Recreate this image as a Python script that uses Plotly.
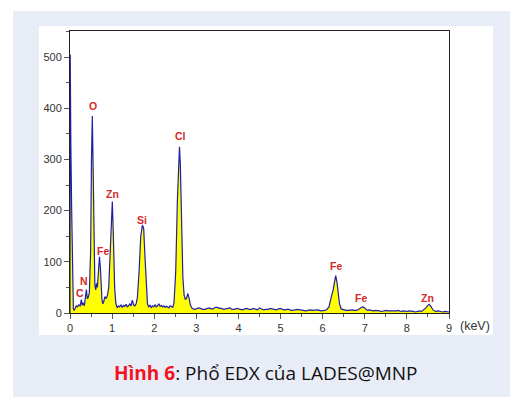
import plotly.graph_objects as go

# Energy (keV) and counts
energy = [0.00, 0.005, 0.02, 0.04, 0.06, 0.08, 0.10, 0.12, 0.15, 0.18, 0.21, 0.24, 0.27, 0.29, 0.31,
          0.34, 0.37, 0.39, 0.41, 0.43, 0.46, 0.49, 0.51, 0.53, 0.55, 0.57, 0.59, 0.61, 0.63, 0.65,
          0.67, 0.70, 0.72, 0.74, 0.76, 0.78, 0.80, 0.83, 0.86, 0.89, 0.92, 0.95, 0.98, 1.005, 1.03,
          1.06, 1.09, 1.12, 1.15, 1.18, 1.21, 1.24, 1.27, 1.30, 1.33, 1.36, 1.39, 1.42, 1.45, 1.48,
          1.51, 1.54, 1.57, 1.60, 1.64, 1.68, 1.72, 1.75, 1.78, 1.81, 1.84, 1.87, 1.90, 1.93, 1.96,
          1.99, 2.02, 2.05, 2.08, 2.11, 2.14, 2.17, 2.20, 2.23, 2.26, 2.29, 2.32, 2.35, 2.38, 2.41,
          2.44, 2.47, 2.51, 2.55, 2.58, 2.60, 2.62, 2.65, 2.68, 2.71, 2.74, 2.77, 2.80, 2.83, 2.86,
          2.90, 2.95, 3.00, 3.05, 3.10, 3.15, 3.20, 3.25, 3.30, 3.35, 3.40, 3.45, 3.50, 3.55, 3.60,
          3.65, 3.70, 3.75, 3.80, 3.85, 3.90, 3.95, 4.00, 4.05, 4.10, 4.15, 4.20, 4.25, 4.30, 4.35,
          4.40, 4.45, 4.50, 4.55, 4.60, 4.65, 4.70, 4.75, 4.80, 4.85, 4.90, 4.95, 5.00, 5.05, 5.10,
          5.15, 5.20, 5.25, 5.30, 5.35, 5.40, 5.45, 5.50, 5.55, 5.60, 5.65, 5.70, 5.75, 5.80, 5.85,
          5.90, 5.95, 6.00, 6.05, 6.10, 6.15, 6.20, 6.25, 6.28, 6.31, 6.34, 6.37, 6.40, 6.44, 6.50,
          6.55, 6.60, 6.65, 6.70, 6.75, 6.80, 6.85, 6.90, 6.94, 6.98, 7.02, 7.06, 7.10, 7.15, 7.20,
          7.25, 7.30, 7.35, 7.40, 7.45, 7.50, 7.55, 7.60, 7.65, 7.70, 7.75, 7.80, 7.85, 7.90, 7.95,
          8.00, 8.05, 8.10, 8.15, 8.20, 8.25, 8.30, 8.35, 8.40, 8.45, 8.50, 8.53, 8.57, 8.62, 8.68,
          8.75, 8.80, 8.85, 8.90, 8.95, 9.00]
counts = [0, 505, 330, 200, 60, 8, 5, 10, 14, 12, 16, 14, 26, 15, 20,
          14, 30, 46, 28, 30, 40, 120, 300, 385, 280, 110, 55, 45, 58, 50,
          80, 110, 90, 50, 25, 18, 22, 32, 28, 35, 50, 110, 190, 218, 150,
          50, 18, 10, 14, 12, 16, 11, 15, 13, 17, 12, 14, 18, 14, 25,
          16, 14, 18, 30, 80, 150, 172, 165, 110, 45, 18, 12, 15, 11, 14,
          12, 16, 12, 14, 18, 13, 15, 12, 14, 11, 13, 12, 10, 14, 12,
          11, 20, 80, 220, 310, 325, 290, 180, 70, 35, 26, 30, 38, 28, 15,
          9, 7, 8, 10, 9, 7, 7, 9, 10, 8, 8, 11, 11, 9, 9,
          7, 8, 10, 10, 7, 7, 9, 8, 6, 6, 8, 9, 7, 7, 9,
          8, 6, 10, 8, 6, 7, 7, 9, 8, 6, 6, 8, 9, 7, 6,
          7, 7, 5, 5, 6, 7, 6, 6, 5, 4, 5, 6, 5, 5, 6,
          6, 4, 4, 5, 7, 12, 30, 45, 60, 73, 60, 35, 18, 8, 6,
          5, 5, 6, 6, 5, 5, 7, 10, 12, 11, 8, 5, 6, 5, 4,
          5, 5, 4, 3, 4, 5, 4, 4, 3, 3, 4, 5, 3, 4, 3,
          3, 4, 4, 3, 2, 3, 4, 3, 6, 10, 15, 17, 13, 6, 3,
          4, 3, 2, 3, 3, 2]

# Peak labels (element, x, y)
label_text = ["C", "N", "O", "Fe", "Zn", "Si", "Cl", "Fe", "Fe", "Zn"]
label_x = [0.23, 0.33, 0.55, 0.78, 1.02, 1.72, 2.62, 6.31, 6.91, 8.49]
label_y = [39, 62, 404, 122, 233, 182, 345, 92, 29, 30]

x_ticks = list(range(0, 10))
y_ticks = [0, 100, 200, 300, 400, 500]

fig = go.Figure()
fig.add_trace(go.Scatter(
    x=energy, y=counts, mode="lines",
    line=dict(color="#1f1fa8", width=1.2),
    fill="tozeroy", fillcolor="#ffff00",
    hoverinfo="skip", showlegend=False,
))

for t, x, y in zip(label_text, label_x, label_y):
    fig.add_annotation(x=x, y=y, text="<b>%s</b>" % t, showarrow=False,
                       xanchor="center", yanchor="middle",
                       font=dict(family="Arial, Liberation Sans", size=10.5, color="#d42a2a"))

W, H = 510, 397
ML, MR, MT, MB = 70, 61, 31, 84
pw, ph = W - ML - MR, H - MT - MB


def px(x):
    return (x - ML) / pw


def py(y):
    return (H - MB - y) / ph


shapes = [
    dict(type="rect", xref="paper", yref="paper", x0=px(0), x1=px(W), y0=py(0), y1=py(11),
         fillcolor="white", line_width=0, layer="below"),
    dict(type="rect", xref="paper", yref="paper", x0=px(0), x1=px(13), y0=py(0), y1=py(H),
         fillcolor="white", line_width=0, layer="below"),
    dict(type="rect", xref="paper", yref="paper", x0=px(39), x1=px(493), y0=py(26), y1=py(335),
         fillcolor="white", line_width=0, layer="below"),
]

fig.add_annotation(xref="paper", yref="paper", x=px(475), y=py(326), text="(keV)",
                   xanchor="center", yanchor="middle",
                   showarrow=False, font=dict(family="Arial, Liberation Sans", size=12.5, color="#333333"))
fig.add_annotation(xref="paper", yref="paper", x=px(266), y=py(373),
                   xanchor="center", yanchor="middle",
                   text="<b><span style='color:#f0141e'>Hình 6</span></b>: Phổ EDX của LADES@MNP",
                   showarrow=False, font=dict(family="Open Sans", size=19, color="#111111"))

fig.update_layout(
    width=W, height=H,
    margin=dict(l=ML, r=MR, t=MT, b=MB),
    paper_bgcolor="#e8ecf6",
    plot_bgcolor="white",
    shapes=shapes,
    font=dict(family="Arial, Liberation Sans", size=11, color="#333333"),
)
fig.update_xaxes(range=[0, 9], tickvals=x_ticks, ticktext=[str(v) for v in x_ticks],
                 showgrid=False, zeroline=False, showline=True, linecolor="#222222", linewidth=1,
                 mirror=True, ticks="outside", ticklen=5, tickcolor="#555555",
                 minor=dict(ticks="outside", ticklen=3, dtick=0.5, tick0=0, tickcolor="#555555", showgrid=False))
fig.update_yaxes(range=[0, 551], tickvals=y_ticks, ticktext=[str(v) for v in y_ticks],
                 showgrid=False, zeroline=False, showline=True, linecolor="#222222", linewidth=1,
                 mirror=True, ticks="outside", ticklen=5, tickcolor="#555555",
                 minor=dict(ticks="outside", ticklen=3, dtick=50, tick0=0, tickcolor="#555555", showgrid=False))

fig.write_html("out.html")
